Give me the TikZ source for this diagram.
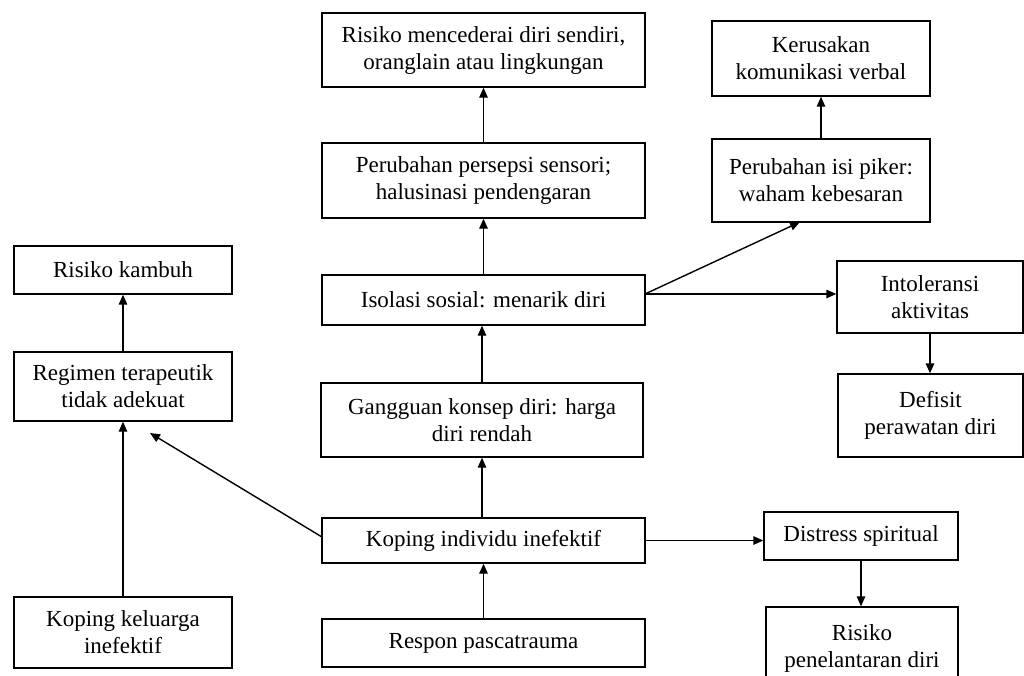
\documentclass[tikz,border=0pt]{standalone}
\usepackage{fontspec}
\setmainfont{Liberation Serif}
\usetikzlibrary{arrows.meta}

\begin{document}
\begin{tikzpicture}[x=1pt, y=-1pt, line width=1.4pt,
    box/.style={draw, align=center, inner sep=0pt, font=\fontsize{23}{27}\selectfont},
    arr/.style={-{Triangle[length=10pt,width=8.5pt]}}]
        \useasboundingbox (0,0) rectangle (1024,675);

        % middle column
        \node[box, minimum width=323, minimum height=74] (cedera) at (483.5,50) {Risiko mencederai diri sendiri,\\oranglain atau lingkungan};
        \node[box, minimum width=323, minimum height=75] (persepsi) at (483.5,180.5) {Perubahan persepsi sensori;\\halusinasi pendengaran};
        \node[box, minimum width=323, minimum height=50] (isolasi) at (483.5,300) {Isolasi sosial: menarik diri};
        \node[box, minimum width=322, minimum height=74] (gangguan) at (482,420) {Gangguan konsep diri: harga\\diri rendah};
        \node[box, minimum width=323, minimum height=45] (kopingind) at (483.5,540.5) {Koping individu inefektif};
        \node[box, minimum width=323, minimum height=48] (respon) at (483.5,643) {Respon pascatrauma};

        % left column
        \node[box, minimum width=218, minimum height=48] (kambuh) at (123,270) {Risiko kambuh};
        \node[box, minimum width=218, minimum height=69] (regimen) at (123,386.5) {Regimen terapeutik\\tidak adekuat};
        \node[box, minimum width=218, minimum height=71] (keluarga) at (123,632.5) {Koping keluarga\\inefektif};

        % right side
        \node[box, minimum width=218, minimum height=75] (verbal) at (821,58.5) {Kerusakan\\komunikasi verbal};
        \node[box, minimum width=218, minimum height=83] (waham) at (821,180.5) {Perubahan isi piker:\\waham kebesaran};
        \node[box, minimum width=186, minimum height=72] (intoleransi) at (930,297) {Intoleransi\\aktivitas};
        \node[box, minimum width=185, minimum height=83] (defisit) at (930.5,415.5) {Defisit\\perawatan diri};
        \node[box, minimum width=194, minimum height=48] (distress) at (861,536) {Distress spiritual};
        \node[box, minimum width=192, minimum height=83] (penelantaran) at (862,648.5) {Risiko\\penelantaran diri};

        \coordinate (isoout) at (645,294);
        \coordinate (wahamin) at (800,222);
        \coordinate (regimenin) at (150,433);
        \coordinate (kopingout) at (322,537);

        \draw[arr] (respon.north) -- (kopingind.south);
        \draw[arr] (gangguan.north |- kopingind.north) -- (gangguan.south);
        \draw[arr] (gangguan.north) -- (gangguan.north |- isolasi.south);
        \draw[arr] (isolasi.north) -- (persepsi.south);
        \draw[arr] (persepsi.north) -- (cedera.south);
        \draw[arr] (isoout) -- (wahamin);
        \draw[arr] (isoout) -- (intoleransi.west |- isoout);
        \draw[arr] (waham.north) -- (verbal.south);
        \draw[arr] (intoleransi.south) -- (defisit.north -| intoleransi.south);
        \draw[arr] (kopingind.east) -- (distress.west |- kopingind.east);
        \draw[arr] (distress.south) -- (penelantaran.north -| distress.south);
        \draw[arr] (kopingout) -- (regimenin);
        \draw[arr] (keluarga.north) -- (regimen.south);
        \draw[arr] (regimen.north) -- (kambuh.south);
    \end{tikzpicture}
\end{document}
